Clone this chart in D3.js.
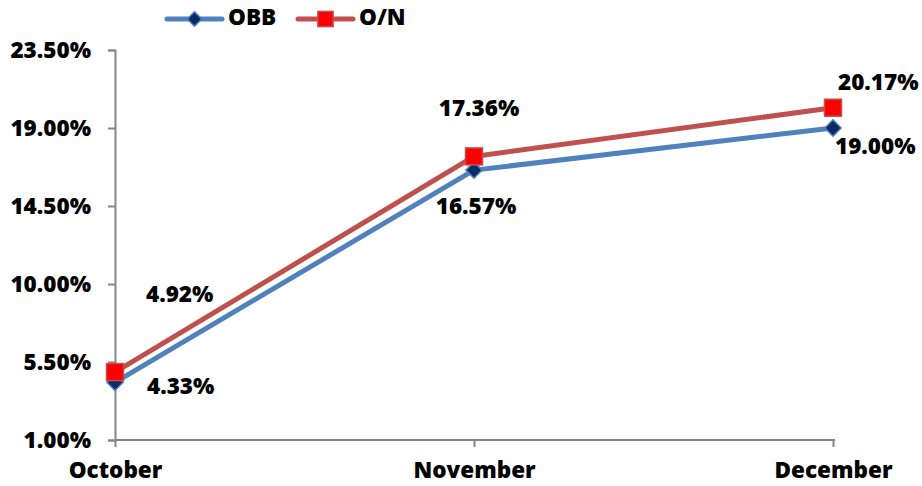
<!doctype html>
<html>
<head>
<meta charset="utf-8">
<script src="https://cdn.jsdelivr.net/npm/d3@7"></script>
<style>
  body { margin: 0; background: #fff; }
  text { font-family: "Open Sans", "Liberation Sans", sans-serif; font-weight: 800; fill: #000; }
</style>
</head>
<body>
<svg id="chart" width="922" height="486"></svg>
<script>
// chart data
const months = ["October", "November", "December"];
const obb = [4.33, 16.57, 19.00];
const overnight = [4.92, 17.36, 20.17];
const yTicks = [1.00, 5.50, 10.00, 14.50, 19.00, 23.50];

const svg = d3.select("#chart");
const plotLeft = 115, plotRight = 833, plotTop = 50, plotBottom = 440;
const fontSize = "22.5px";

const x = d3.scalePoint().domain(months).range([plotLeft, plotRight]);
const y = d3.scaleLinear().domain([1, 23.5]).range([plotBottom, plotTop]);

const axisColor = "#868686";

// y axis
const yAxis = svg.append("g").attr("transform", `translate(${plotLeft},0)`)
  .call(d3.axisLeft(y).tickValues(yTicks).tickSize(7).tickPadding(17)
    .tickFormat(d => d.toFixed(2) + "%"));
yAxis.select(".domain").attr("stroke", axisColor).attr("stroke-width", 2);
yAxis.selectAll(".tick line").attr("stroke", axisColor).attr("stroke-width", 2);
yAxis.selectAll("text").style("font-size", fontSize).attr("fill", "#000");

// x axis
const xAxis = svg.append("g").attr("transform", `translate(0,${plotBottom})`)
  .call(d3.axisBottom(x).tickSize(7).tickPadding(15).tickSizeOuter(0));
xAxis.select(".domain").attr("stroke", axisColor).attr("stroke-width", 2)
  .attr("d", `M${plotLeft},0H${plotRight + 2}`);
xAxis.selectAll(".tick line").attr("stroke", axisColor).attr("stroke-width", 2);
xAxis.selectAll("text").style("font-size", fontSize).attr("fill", "#000");

const line = d3.line().x((d, i) => x(months[i])).y(d => y(d));

const series = [
  { name: "OBB", values: obb, color: "#4F81BD", shape: "diamond" },
  { name: "O/N", values: overnight, color: "#C0504D", shape: "square" }
];

function drawMarker(g, shape, cx, cy, scale) {
  if (shape === "diamond") {
    g.append("path")
      .attr("d", d3.symbol().type(d3.symbolDiamond2).size(170 * scale)())
      .attr("transform", `translate(${cx},${cy})`)
      .attr("fill", "#0B2A66").attr("stroke", "#4F81BD").attr("stroke-width", 1.5);
  } else {
    const s = 17 * Math.sqrt(scale);
    g.append("rect").attr("x", cx - s / 2).attr("y", cy - s / 2)
      .attr("width", s).attr("height", s)
      .attr("fill", "#FF0000").attr("stroke", "#C0504D").attr("stroke-width", 1.5);
  }
}

series.forEach(s => {
  svg.append("path").datum(s.values).attr("d", line)
    .attr("fill", "none").attr("stroke", s.color).attr("stroke-width", 5)
    .attr("stroke-linejoin", "round");
});
series.forEach(s => {
  const g = svg.append("g");
  s.values.forEach((v, i) => drawMarker(g, s.shape, x(months[i]), y(v), 1));
});

// data labels (positions as placed in the original)
const labelOffsets = {
  "OBB": [[32, 6, "start"], [2, 38, "middle"], [2, 20, "start"]],
  "O/N": [[31, -76, "start"], [5, -46, "middle"], [5, -24, "start"]]
};
series.forEach(s => {
  s.values.forEach((v, i) => {
    const [dx, dy, anchor] = labelOffsets[s.name][i];
    svg.append("text")
      .attr("x", x(months[i]) + dx).attr("y", y(v) + dy)
      .attr("text-anchor", anchor).attr("dominant-baseline", "middle")
      .style("font-size", fontSize)
      .text(v.toFixed(2) + "%");
  });
});

// legend
const legend = svg.append("g");
series.forEach((s, i) => {
  const lx = 167 + i * 131, ly = 19;
  legend.append("line").attr("x1", lx).attr("x2", lx + 55).attr("y1", ly).attr("y2", ly)
    .attr("stroke", s.color).attr("stroke-width", 5).attr("stroke-linecap", "round");
  drawMarker(legend, s.shape, lx + 27.5, ly, 0.8);
  legend.append("text").attr("x", lx + 61).attr("y", ly)
    .attr("dominant-baseline", "middle").style("font-size", fontSize).text(s.name);
});
</script>
</body>
</html>
